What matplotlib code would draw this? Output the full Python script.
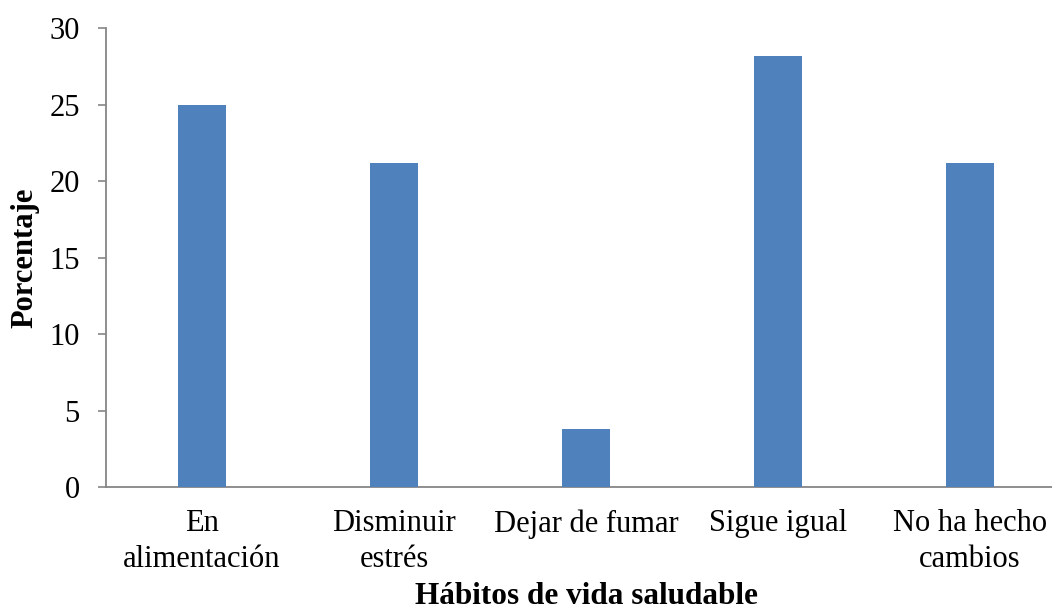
import matplotlib.pyplot as plt

# porcentaje de encuestados por cambio en hábitos
categorias = ["En\nalimentación", "Disminuir\nestrés", "Dejar de fumar",
              "Sigue igual", "No ha hecho\ncambios"]
porcentajes = [25.0, 21.2, 3.8, 28.2, 21.2]
yticks = [0, 5, 10, 15, 20, 25, 30]

plt.rcParams['font.family'] = ['Liberation Serif', 'DejaVu Serif']

fig = plt.figure(figsize=(10.52, 6.13), dpi=100)
ax = fig.add_axes([0.1008, 0.2055, 0.8992, 0.7488])

x = range(len(categorias))
ax.bar(x, porcentajes, width=0.25, color='#4F81BD', zorder=3)

ax.set_xlim(-0.5, 4.427)
ax.set_ylim(0, 30)
ax.set_yticks(yticks)
ax.set_xticks(list(x))
ax.set_xticklabels(categorias, fontsize=22, linespacing=1.3)
ax.tick_params(axis='y', labelsize=22, direction='out', length=6,
               width=1.2, color='#868686', pad=13)
ax.tick_params(axis='x', length=0, pad=16)

for s in ['top', 'right']:
    ax.spines[s].set_visible(False)
for s in ['left', 'bottom']:
    ax.spines[s].set_color('#868686')
    ax.spines[s].set_linewidth(1.3)

ax.set_ylabel("Porcentaje", fontsize=22, fontweight='bold')
ax.yaxis.set_label_coords(-0.07, 0.5)
ax.set_xlabel("Hábitos de vida saludable", fontsize=22.5, fontweight='bold')
ax.xaxis.set_label_coords(0.508, -0.207)

fig.savefig("out.png", dpi=100)
